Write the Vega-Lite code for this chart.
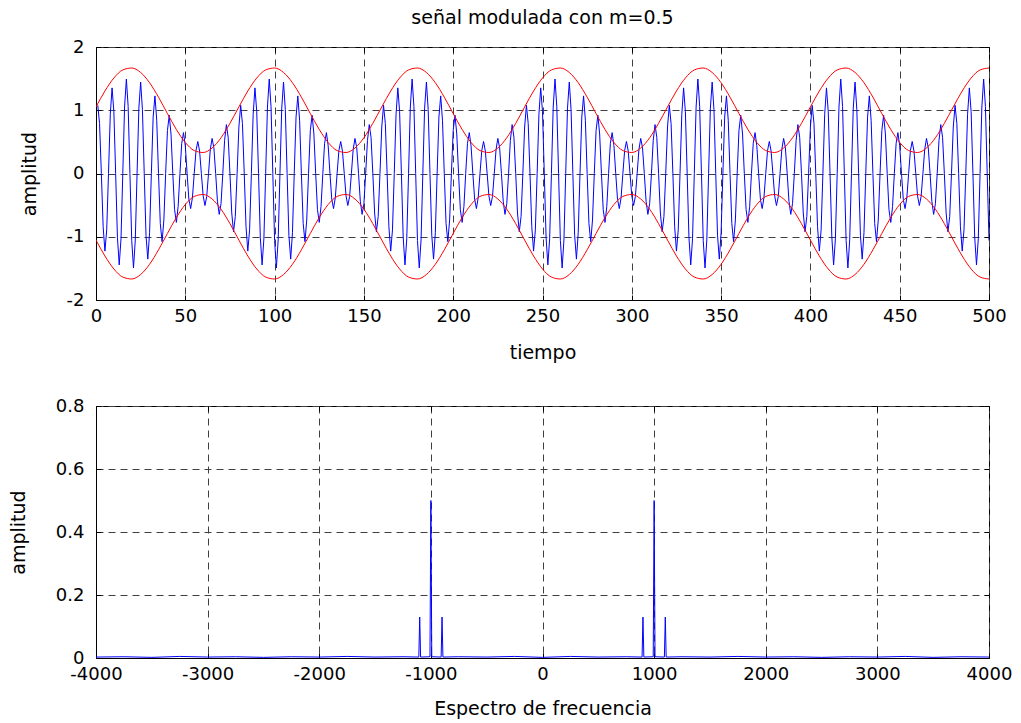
{
  "$schema": "https://vega.github.io/schema/vega-lite/v6.json",
  "background": "white",
  "padding": {"left": 8, "top": 8, "right": 10, "bottom": 2},
  "config": {
    "font": "DejaVu Sans",
    "view": {"stroke": "black", "strokeWidth": 1},
    "axis": {
      "labelFont": "DejaVu Sans",
      "labelFontSize": 18,
      "labelColor": "black",
      "titleFont": "DejaVu Sans",
      "titleFontSize": 19,
      "titleFontWeight": "normal",
      "titleColor": "black",
      "domainColor": "black",
      "tickColor": "black",
      "tickSize": -5,
      "gridColor": "#404040",
      "gridDash": [7, 5],
      "gridWidth": 1,
      "labelFlush": false,
      "labelOverlap": false
    },
    "axisX": {"labelPadding": 12, "titlePadding": 17},
    "axisY": {"labelPadding": 17, "titlePadding": 27}
  },
  "spacing": 33,
  "datasets": {
    "senal": [
      {"t":1,"v":1.0782},{"t":2,"v":0.7896},{"t":3,"v":0},{"t":4,"v":-0.8424},{"t":5,"v":-1.227},{"t":6,"v":-0.8918},{"t":7,"v":0},{"t":8,"v":0.9367},
      {"t":9,"v":1.3536},{"t":10,"v":0.9759},{"t":11,"v":0},{"t":12,"v":-1.0085},{"t":13,"v":-1.4455},{"t":14,"v":-1.0337},{"t":15,"v":0},{"t":16,"v":1.0509},
      {"t":17,"v":1.4938},{"t":18,"v":1.0596},{"t":19,"v":0},{"t":20,"v":-1.0596},{"t":21,"v":-1.4938},{"t":22,"v":-1.0509},{"t":23,"v":0},{"t":24,"v":1.0337},
      {"t":25,"v":1.4455},{"t":26,"v":1.0085},{"t":27,"v":0},{"t":28,"v":-0.9759},{"t":29,"v":-1.3536},{"t":30,"v":-0.9367},{"t":31,"v":0},{"t":32,"v":0.8918},
      {"t":33,"v":1.227},{"t":34,"v":0.8424},{"t":35,"v":0},{"t":36,"v":-0.7896},{"t":37,"v":-1.0782},{"t":38,"v":-0.7349},{"t":39,"v":0},{"t":40,"v":0.6793},
      {"t":41,"v":0.9218},{"t":42,"v":0.6246},{"t":43,"v":0},{"t":44,"v":-0.5718},{"t":45,"v":-0.773},{"t":46,"v":-0.5224},{"t":47,"v":0},{"t":48,"v":0.4775},
      {"t":49,"v":0.6464},{"t":50,"v":0.4383},{"t":51,"v":0},{"t":52,"v":-0.4057},{"t":53,"v":-0.5545},{"t":54,"v":-0.3805},{"t":55,"v":0},{"t":56,"v":0.3633},
      {"t":57,"v":0.5062},{"t":58,"v":0.3546},{"t":59,"v":0},{"t":60,"v":-0.3546},{"t":61,"v":-0.5062},{"t":62,"v":-0.3633},{"t":63,"v":0},{"t":64,"v":0.3805},
      {"t":65,"v":0.5545},{"t":66,"v":0.4057},{"t":67,"v":0},{"t":68,"v":-0.4383},{"t":69,"v":-0.6464},{"t":70,"v":-0.4775},{"t":71,"v":0},{"t":72,"v":0.5224},
      {"t":73,"v":0.773},{"t":74,"v":0.5718},{"t":75,"v":0},{"t":76,"v":-0.6246},{"t":77,"v":-0.9218},{"t":78,"v":-0.6793},{"t":79,"v":0},{"t":80,"v":0.7349},
      {"t":81,"v":1.0782},{"t":82,"v":0.7896},{"t":83,"v":0},{"t":84,"v":-0.8424},{"t":85,"v":-1.227},{"t":86,"v":-0.8918},{"t":87,"v":0},{"t":88,"v":0.9367},
      {"t":89,"v":1.3536},{"t":90,"v":0.9759},{"t":91,"v":0},{"t":92,"v":-1.0085},{"t":93,"v":-1.4455},{"t":94,"v":-1.0337},{"t":95,"v":0},{"t":96,"v":1.0509},
      {"t":97,"v":1.4938},{"t":98,"v":1.0596},{"t":99,"v":0},{"t":100,"v":-1.0596},{"t":101,"v":-1.4938},{"t":102,"v":-1.0509},{"t":103,"v":0},{"t":104,"v":1.0337},
      {"t":105,"v":1.4455},{"t":106,"v":1.0085},{"t":107,"v":0},{"t":108,"v":-0.9759},{"t":109,"v":-1.3536},{"t":110,"v":-0.9367},{"t":111,"v":0},{"t":112,"v":0.8918},
      {"t":113,"v":1.227},{"t":114,"v":0.8424},{"t":115,"v":0},{"t":116,"v":-0.7896},{"t":117,"v":-1.0782},{"t":118,"v":-0.7349},{"t":119,"v":0},{"t":120,"v":0.6793},
      {"t":121,"v":0.9218},{"t":122,"v":0.6246},{"t":123,"v":0},{"t":124,"v":-0.5718},{"t":125,"v":-0.773},{"t":126,"v":-0.5224},{"t":127,"v":0},{"t":128,"v":0.4775},
      {"t":129,"v":0.6464},{"t":130,"v":0.4383},{"t":131,"v":0},{"t":132,"v":-0.4057},{"t":133,"v":-0.5545},{"t":134,"v":-0.3805},{"t":135,"v":0},{"t":136,"v":0.3633},
      {"t":137,"v":0.5062},{"t":138,"v":0.3546},{"t":139,"v":0},{"t":140,"v":-0.3546},{"t":141,"v":-0.5062},{"t":142,"v":-0.3633},{"t":143,"v":0},{"t":144,"v":0.3805},
      {"t":145,"v":0.5545},{"t":146,"v":0.4057},{"t":147,"v":0},{"t":148,"v":-0.4383},{"t":149,"v":-0.6464},{"t":150,"v":-0.4775},{"t":151,"v":0},{"t":152,"v":0.5224},
      {"t":153,"v":0.773},{"t":154,"v":0.5718},{"t":155,"v":0},{"t":156,"v":-0.6246},{"t":157,"v":-0.9218},{"t":158,"v":-0.6793},{"t":159,"v":0},{"t":160,"v":0.7349},
      {"t":161,"v":1.0782},{"t":162,"v":0.7896},{"t":163,"v":0},{"t":164,"v":-0.8424},{"t":165,"v":-1.227},{"t":166,"v":-0.8918},{"t":167,"v":0},{"t":168,"v":0.9367},
      {"t":169,"v":1.3536},{"t":170,"v":0.9759},{"t":171,"v":0},{"t":172,"v":-1.0085},{"t":173,"v":-1.4455},{"t":174,"v":-1.0337},{"t":175,"v":0},{"t":176,"v":1.0509},
      {"t":177,"v":1.4938},{"t":178,"v":1.0596},{"t":179,"v":0},{"t":180,"v":-1.0596},{"t":181,"v":-1.4938},{"t":182,"v":-1.0509},{"t":183,"v":0},{"t":184,"v":1.0337},
      {"t":185,"v":1.4455},{"t":186,"v":1.0085},{"t":187,"v":0},{"t":188,"v":-0.9759},{"t":189,"v":-1.3536},{"t":190,"v":-0.9367},{"t":191,"v":0},{"t":192,"v":0.8918},
      {"t":193,"v":1.227},{"t":194,"v":0.8424},{"t":195,"v":0},{"t":196,"v":-0.7896},{"t":197,"v":-1.0782},{"t":198,"v":-0.7349},{"t":199,"v":0},{"t":200,"v":0.6793},
      {"t":201,"v":0.9218},{"t":202,"v":0.6246},{"t":203,"v":0},{"t":204,"v":-0.5718},{"t":205,"v":-0.773},{"t":206,"v":-0.5224},{"t":207,"v":0},{"t":208,"v":0.4775},
      {"t":209,"v":0.6464},{"t":210,"v":0.4383},{"t":211,"v":0},{"t":212,"v":-0.4057},{"t":213,"v":-0.5545},{"t":214,"v":-0.3805},{"t":215,"v":0},{"t":216,"v":0.3633},
      {"t":217,"v":0.5062},{"t":218,"v":0.3546},{"t":219,"v":0},{"t":220,"v":-0.3546},{"t":221,"v":-0.5062},{"t":222,"v":-0.3633},{"t":223,"v":0},{"t":224,"v":0.3805},
      {"t":225,"v":0.5545},{"t":226,"v":0.4057},{"t":227,"v":0},{"t":228,"v":-0.4383},{"t":229,"v":-0.6464},{"t":230,"v":-0.4775},{"t":231,"v":0},{"t":232,"v":0.5224},
      {"t":233,"v":0.773},{"t":234,"v":0.5718},{"t":235,"v":0},{"t":236,"v":-0.6246},{"t":237,"v":-0.9218},{"t":238,"v":-0.6793},{"t":239,"v":0},{"t":240,"v":0.7349},
      {"t":241,"v":1.0782},{"t":242,"v":0.7896},{"t":243,"v":0},{"t":244,"v":-0.8424},{"t":245,"v":-1.227},{"t":246,"v":-0.8918},{"t":247,"v":0},{"t":248,"v":0.9367},
      {"t":249,"v":1.3536},{"t":250,"v":0.9759},{"t":251,"v":0},{"t":252,"v":-1.0085},{"t":253,"v":-1.4455},{"t":254,"v":-1.0337},{"t":255,"v":0},{"t":256,"v":1.0509},
      {"t":257,"v":1.4938},{"t":258,"v":1.0596},{"t":259,"v":0},{"t":260,"v":-1.0596},{"t":261,"v":-1.4938},{"t":262,"v":-1.0509},{"t":263,"v":0},{"t":264,"v":1.0337},
      {"t":265,"v":1.4455},{"t":266,"v":1.0085},{"t":267,"v":0},{"t":268,"v":-0.9759},{"t":269,"v":-1.3536},{"t":270,"v":-0.9367},{"t":271,"v":0},{"t":272,"v":0.8918},
      {"t":273,"v":1.227},{"t":274,"v":0.8424},{"t":275,"v":0},{"t":276,"v":-0.7896},{"t":277,"v":-1.0782},{"t":278,"v":-0.7349},{"t":279,"v":0},{"t":280,"v":0.6793},
      {"t":281,"v":0.9218},{"t":282,"v":0.6246},{"t":283,"v":0},{"t":284,"v":-0.5718},{"t":285,"v":-0.773},{"t":286,"v":-0.5224},{"t":287,"v":0},{"t":288,"v":0.4775},
      {"t":289,"v":0.6464},{"t":290,"v":0.4383},{"t":291,"v":0},{"t":292,"v":-0.4057},{"t":293,"v":-0.5545},{"t":294,"v":-0.3805},{"t":295,"v":0},{"t":296,"v":0.3633},
      {"t":297,"v":0.5062},{"t":298,"v":0.3546},{"t":299,"v":0},{"t":300,"v":-0.3546},{"t":301,"v":-0.5062},{"t":302,"v":-0.3633},{"t":303,"v":0},{"t":304,"v":0.3805},
      {"t":305,"v":0.5545},{"t":306,"v":0.4057},{"t":307,"v":0},{"t":308,"v":-0.4383},{"t":309,"v":-0.6464},{"t":310,"v":-0.4775},{"t":311,"v":0},{"t":312,"v":0.5224},
      {"t":313,"v":0.773},{"t":314,"v":0.5718},{"t":315,"v":0},{"t":316,"v":-0.6246},{"t":317,"v":-0.9218},{"t":318,"v":-0.6793},{"t":319,"v":0},{"t":320,"v":0.7349},
      {"t":321,"v":1.0782},{"t":322,"v":0.7896},{"t":323,"v":0},{"t":324,"v":-0.8424},{"t":325,"v":-1.227},{"t":326,"v":-0.8918},{"t":327,"v":0},{"t":328,"v":0.9367},
      {"t":329,"v":1.3536},{"t":330,"v":0.9759},{"t":331,"v":0},{"t":332,"v":-1.0085},{"t":333,"v":-1.4455},{"t":334,"v":-1.0337},{"t":335,"v":0},{"t":336,"v":1.0509},
      {"t":337,"v":1.4938},{"t":338,"v":1.0596},{"t":339,"v":0},{"t":340,"v":-1.0596},{"t":341,"v":-1.4938},{"t":342,"v":-1.0509},{"t":343,"v":0},{"t":344,"v":1.0337},
      {"t":345,"v":1.4455},{"t":346,"v":1.0085},{"t":347,"v":0},{"t":348,"v":-0.9759},{"t":349,"v":-1.3536},{"t":350,"v":-0.9367},{"t":351,"v":0},{"t":352,"v":0.8918},
      {"t":353,"v":1.227},{"t":354,"v":0.8424},{"t":355,"v":0},{"t":356,"v":-0.7896},{"t":357,"v":-1.0782},{"t":358,"v":-0.7349},{"t":359,"v":0},{"t":360,"v":0.6793},
      {"t":361,"v":0.9218},{"t":362,"v":0.6246},{"t":363,"v":0},{"t":364,"v":-0.5718},{"t":365,"v":-0.773},{"t":366,"v":-0.5224},{"t":367,"v":0},{"t":368,"v":0.4775},
      {"t":369,"v":0.6464},{"t":370,"v":0.4383},{"t":371,"v":0},{"t":372,"v":-0.4057},{"t":373,"v":-0.5545},{"t":374,"v":-0.3805},{"t":375,"v":0},{"t":376,"v":0.3633},
      {"t":377,"v":0.5062},{"t":378,"v":0.3546},{"t":379,"v":0},{"t":380,"v":-0.3546},{"t":381,"v":-0.5062},{"t":382,"v":-0.3633},{"t":383,"v":0},{"t":384,"v":0.3805},
      {"t":385,"v":0.5545},{"t":386,"v":0.4057},{"t":387,"v":0},{"t":388,"v":-0.4383},{"t":389,"v":-0.6464},{"t":390,"v":-0.4775},{"t":391,"v":0},{"t":392,"v":0.5224},
      {"t":393,"v":0.773},{"t":394,"v":0.5718},{"t":395,"v":0},{"t":396,"v":-0.6246},{"t":397,"v":-0.9218},{"t":398,"v":-0.6793},{"t":399,"v":0},{"t":400,"v":0.7349},
      {"t":401,"v":1.0782},{"t":402,"v":0.7896},{"t":403,"v":0},{"t":404,"v":-0.8424},{"t":405,"v":-1.227},{"t":406,"v":-0.8918},{"t":407,"v":0},{"t":408,"v":0.9367},
      {"t":409,"v":1.3536},{"t":410,"v":0.9759},{"t":411,"v":0},{"t":412,"v":-1.0085},{"t":413,"v":-1.4455},{"t":414,"v":-1.0337},{"t":415,"v":0},{"t":416,"v":1.0509},
      {"t":417,"v":1.4938},{"t":418,"v":1.0596},{"t":419,"v":0},{"t":420,"v":-1.0596},{"t":421,"v":-1.4938},{"t":422,"v":-1.0509},{"t":423,"v":0},{"t":424,"v":1.0337},
      {"t":425,"v":1.4455},{"t":426,"v":1.0085},{"t":427,"v":0},{"t":428,"v":-0.9759},{"t":429,"v":-1.3536},{"t":430,"v":-0.9367},{"t":431,"v":0},{"t":432,"v":0.8918},
      {"t":433,"v":1.227},{"t":434,"v":0.8424},{"t":435,"v":0},{"t":436,"v":-0.7896},{"t":437,"v":-1.0782},{"t":438,"v":-0.7349},{"t":439,"v":0},{"t":440,"v":0.6793},
      {"t":441,"v":0.9218},{"t":442,"v":0.6246},{"t":443,"v":0},{"t":444,"v":-0.5718},{"t":445,"v":-0.773},{"t":446,"v":-0.5224},{"t":447,"v":0},{"t":448,"v":0.4775},
      {"t":449,"v":0.6464},{"t":450,"v":0.4383},{"t":451,"v":0},{"t":452,"v":-0.4057},{"t":453,"v":-0.5545},{"t":454,"v":-0.3805},{"t":455,"v":0},{"t":456,"v":0.3633},
      {"t":457,"v":0.5062},{"t":458,"v":0.3546},{"t":459,"v":0},{"t":460,"v":-0.3546},{"t":461,"v":-0.5062},{"t":462,"v":-0.3633},{"t":463,"v":0},{"t":464,"v":0.3805},
      {"t":465,"v":0.5545},{"t":466,"v":0.4057},{"t":467,"v":0},{"t":468,"v":-0.4383},{"t":469,"v":-0.6464},{"t":470,"v":-0.4775},{"t":471,"v":0},{"t":472,"v":0.5224},
      {"t":473,"v":0.773},{"t":474,"v":0.5718},{"t":475,"v":0},{"t":476,"v":-0.6246},{"t":477,"v":-0.9218},{"t":478,"v":-0.6793},{"t":479,"v":0},{"t":480,"v":0.7349},
      {"t":481,"v":1.0782},{"t":482,"v":0.7896},{"t":483,"v":0},{"t":484,"v":-0.8424},{"t":485,"v":-1.227},{"t":486,"v":-0.8918},{"t":487,"v":0},{"t":488,"v":0.9367},
      {"t":489,"v":1.3536},{"t":490,"v":0.9759},{"t":491,"v":0},{"t":492,"v":-1.0085},{"t":493,"v":-1.4455},{"t":494,"v":-1.0337},{"t":495,"v":0},{"t":496,"v":1.0509},
      {"t":497,"v":1.4938},{"t":498,"v":1.0596},{"t":499,"v":0},{"t":500,"v":-1.0596}
    ],
    "envolvente": [
      {"t":0,"hi":1.0526,"lo":-1.0526},{"t":5,"hi":1.3042,"lo":-1.3042},{"t":10,"hi":1.5095,"lo":-1.5095},{"t":15,"hi":1.6372,"lo":-1.6372},
      {"t":20,"hi":1.6679,"lo":-1.6679},{"t":25,"hi":1.597,"lo":-1.597},{"t":30,"hi":1.4351,"lo":-1.4351},{"t":35,"hi":1.207,"lo":-1.207},
      {"t":40,"hi":0.9474,"lo":-0.9474},{"t":45,"hi":0.6958,"lo":-0.6958},{"t":50,"hi":0.4905,"lo":-0.4905},{"t":55,"hi":0.3628,"lo":-0.3628},
      {"t":60,"hi":0.3321,"lo":-0.3321},{"t":65,"hi":0.403,"lo":-0.403},{"t":70,"hi":0.5649,"lo":-0.5649},{"t":75,"hi":0.793,"lo":-0.793},
      {"t":80,"hi":1.0526,"lo":-1.0526},{"t":85,"hi":1.3042,"lo":-1.3042},{"t":90,"hi":1.5095,"lo":-1.5095},{"t":95,"hi":1.6372,"lo":-1.6372},
      {"t":100,"hi":1.6679,"lo":-1.6679},{"t":105,"hi":1.597,"lo":-1.597},{"t":110,"hi":1.4351,"lo":-1.4351},{"t":115,"hi":1.207,"lo":-1.207},
      {"t":120,"hi":0.9474,"lo":-0.9474},{"t":125,"hi":0.6958,"lo":-0.6958},{"t":130,"hi":0.4905,"lo":-0.4905},{"t":135,"hi":0.3628,"lo":-0.3628},
      {"t":140,"hi":0.3321,"lo":-0.3321},{"t":145,"hi":0.403,"lo":-0.403},{"t":150,"hi":0.5649,"lo":-0.5649},{"t":155,"hi":0.793,"lo":-0.793},
      {"t":160,"hi":1.0526,"lo":-1.0526},{"t":165,"hi":1.3042,"lo":-1.3042},{"t":170,"hi":1.5095,"lo":-1.5095},{"t":175,"hi":1.6372,"lo":-1.6372},
      {"t":180,"hi":1.6679,"lo":-1.6679},{"t":185,"hi":1.597,"lo":-1.597},{"t":190,"hi":1.4351,"lo":-1.4351},{"t":195,"hi":1.207,"lo":-1.207},
      {"t":200,"hi":0.9474,"lo":-0.9474},{"t":205,"hi":0.6958,"lo":-0.6958},{"t":210,"hi":0.4905,"lo":-0.4905},{"t":215,"hi":0.3628,"lo":-0.3628},
      {"t":220,"hi":0.3321,"lo":-0.3321},{"t":225,"hi":0.403,"lo":-0.403},{"t":230,"hi":0.5649,"lo":-0.5649},{"t":235,"hi":0.793,"lo":-0.793},
      {"t":240,"hi":1.0526,"lo":-1.0526},{"t":245,"hi":1.3042,"lo":-1.3042},{"t":250,"hi":1.5095,"lo":-1.5095},{"t":255,"hi":1.6372,"lo":-1.6372},
      {"t":260,"hi":1.6679,"lo":-1.6679},{"t":265,"hi":1.597,"lo":-1.597},{"t":270,"hi":1.4351,"lo":-1.4351},{"t":275,"hi":1.207,"lo":-1.207},
      {"t":280,"hi":0.9474,"lo":-0.9474},{"t":285,"hi":0.6958,"lo":-0.6958},{"t":290,"hi":0.4905,"lo":-0.4905},{"t":295,"hi":0.3628,"lo":-0.3628},
      {"t":300,"hi":0.3321,"lo":-0.3321},{"t":305,"hi":0.403,"lo":-0.403},{"t":310,"hi":0.5649,"lo":-0.5649},{"t":315,"hi":0.793,"lo":-0.793},
      {"t":320,"hi":1.0526,"lo":-1.0526},{"t":325,"hi":1.3042,"lo":-1.3042},{"t":330,"hi":1.5095,"lo":-1.5095},{"t":335,"hi":1.6372,"lo":-1.6372},
      {"t":340,"hi":1.6679,"lo":-1.6679},{"t":345,"hi":1.597,"lo":-1.597},{"t":350,"hi":1.4351,"lo":-1.4351},{"t":355,"hi":1.207,"lo":-1.207},
      {"t":360,"hi":0.9474,"lo":-0.9474},{"t":365,"hi":0.6958,"lo":-0.6958},{"t":370,"hi":0.4905,"lo":-0.4905},{"t":375,"hi":0.3628,"lo":-0.3628},
      {"t":380,"hi":0.3321,"lo":-0.3321},{"t":385,"hi":0.403,"lo":-0.403},{"t":390,"hi":0.5649,"lo":-0.5649},{"t":395,"hi":0.793,"lo":-0.793},
      {"t":400,"hi":1.0526,"lo":-1.0526},{"t":405,"hi":1.3042,"lo":-1.3042},{"t":410,"hi":1.5095,"lo":-1.5095},{"t":415,"hi":1.6372,"lo":-1.6372},
      {"t":420,"hi":1.6679,"lo":-1.6679},{"t":425,"hi":1.597,"lo":-1.597},{"t":430,"hi":1.4351,"lo":-1.4351},{"t":435,"hi":1.207,"lo":-1.207},
      {"t":440,"hi":0.9474,"lo":-0.9474},{"t":445,"hi":0.6958,"lo":-0.6958},{"t":450,"hi":0.4905,"lo":-0.4905},{"t":455,"hi":0.3628,"lo":-0.3628},
      {"t":460,"hi":0.3321,"lo":-0.3321},{"t":465,"hi":0.403,"lo":-0.403},{"t":470,"hi":0.5649,"lo":-0.5649},{"t":475,"hi":0.793,"lo":-0.793},
      {"t":480,"hi":1.0526,"lo":-1.0526},{"t":485,"hi":1.3042,"lo":-1.3042},{"t":490,"hi":1.5095,"lo":-1.5095},{"t":495,"hi":1.6372,"lo":-1.6372},
      {"t":500,"hi":1.6679,"lo":-1.6679}
    ],
    "espectro": [
      {"f":-4000,"a":0.003},{"f":-3750,"a":0.004},{"f":-3500,"a":0.002},{"f":-3250,"a":0.005},{"f":-3000,"a":0.003},
      {"f":-2750,"a":0.004},{"f":-2500,"a":0.002},{"f":-2250,"a":0.004},{"f":-2000,"a":0.003},{"f":-1750,"a":0.005},
      {"f":-1500,"a":0.003},{"f":-1250,"a":0.004},{"f":-1108,"a":0.003},{"f":-1100,"a":0.13},{"f":-1092,"a":0.003},
      {"f":-1008,"a":0.004},{"f":-1000,"a":0.5},{"f":-992,"a":0.004},{"f":-908,"a":0.003},{"f":-900,"a":0.13},
      {"f":-892,"a":0.003},{"f":-750,"a":0.004},{"f":-500,"a":0.003},{"f":-250,"a":0.005},{"f":0,"a":0.002},
      {"f":250,"a":0.005},{"f":500,"a":0.003},{"f":750,"a":0.004},{"f":892,"a":0.003},{"f":900,"a":0.13},
      {"f":908,"a":0.003},{"f":992,"a":0.004},{"f":1000,"a":0.5},{"f":1008,"a":0.004},{"f":1092,"a":0.003},
      {"f":1100,"a":0.13},{"f":1108,"a":0.003},{"f":1250,"a":0.004},{"f":1500,"a":0.003},{"f":1750,"a":0.005},
      {"f":2000,"a":0.003},{"f":2250,"a":0.004},{"f":2500,"a":0.002},{"f":2750,"a":0.004},{"f":3000,"a":0.003},
      {"f":3250,"a":0.005},{"f":3500,"a":0.002},{"f":3750,"a":0.004},{"f":4000,"a":0.003}
    ]
  },
  "vconcat": [
    {
      "width": 893,
      "height": 253,
      "title": {"text": "señal modulada con m=0.5", "anchor": "middle", "font": "DejaVu Sans", "fontSize": 19, "fontWeight": "normal", "color": "black", "offset": 10},
      "layer": [
        {
          "data": {"name": "senal"},
          "mark": {"type": "line", "color": "#0000ff", "strokeWidth": 1, "clip": true},
          "encoding": {
            "x": {"field": "t", "type": "quantitative", "scale": {"domain": [0, 500], "nice": false, "zero": false},
              "axis": {"title": "tiempo", "titlePadding": 18, "values": [0, 50, 100, 150, 200, 250, 300, 350, 400, 450, 500], "grid": true, "labelExpr": "'' + datum.value"}},
            "y": {"field": "v", "type": "quantitative", "scale": {"domain": [-2, 2], "nice": false},
              "axis": {"title": "amplitud", "values": [-2, -1, 0, 1, 2], "grid": true, "labelExpr": "'' + datum.value"}}
          }
        },
        {
          "data": {"name": "envolvente"},
          "mark": {"type": "line", "color": "#ff0000", "strokeWidth": 1, "interpolate": "monotone", "clip": true},
          "encoding": {
            "x": {"field": "t", "type": "quantitative",
              "axis": {"orient": "top", "labels": false, "title": null, "grid": false, "domain": false, "values": [0, 50, 100, 150, 200, 250, 300, 350, 400, 450, 500]}},
            "y": {"field": "hi", "type": "quantitative",
              "axis": {"orient": "right", "labels": false, "title": null, "grid": false, "domain": false, "values": [-2, -1, 0, 1, 2]}}
          }
        },
        {
          "data": {"name": "envolvente"},
          "mark": {"type": "line", "color": "#ff0000", "strokeWidth": 1, "interpolate": "monotone", "clip": true},
          "encoding": {
            "x": {"field": "t", "type": "quantitative", "axis": null},
            "y": {"field": "lo", "type": "quantitative", "axis": null}
          }
        }
      ],
      "resolve": {"axis": {"x": "independent", "y": "independent"}}
    },
    {
      "width": 893,
      "height": 252,
      "data": {"name": "espectro"},
      "layer": [
        {
          "mark": {"type": "line", "color": "#0000ff", "strokeWidth": 1, "clip": true},
          "encoding": {
            "x": {"field": "f", "type": "quantitative", "scale": {"domain": [-4000, 4000], "nice": false},
              "axis": {"title": "Espectro de frecuencia", "titlePadding": 16, "values": [-4000, -3000, -2000, -1000, 0, 1000, 2000, 3000, 4000], "grid": true, "labelExpr": "'' + datum.value"}},
            "y": {"field": "a", "type": "quantitative", "scale": {"domain": [0, 0.8], "nice": false},
              "axis": {"title": "amplitud", "values": [0, 0.2, 0.4, 0.6, 0.8], "grid": true, "labelExpr": "'' + datum.value"}}
          }
        },
        {
          "mark": {"type": "line", "opacity": 0},
          "encoding": {
            "x": {"field": "f", "type": "quantitative",
              "axis": {"orient": "top", "labels": false, "title": null, "grid": false, "domain": false, "values": [-4000, -3000, -2000, -1000, 0, 1000, 2000, 3000, 4000]}},
            "y": {"field": "a", "type": "quantitative",
              "axis": {"orient": "right", "labels": false, "title": null, "grid": false, "domain": false, "values": [0, 0.2, 0.4, 0.6, 0.8]}}
          }
        }
      ],
      "resolve": {"axis": {"x": "independent", "y": "independent"}}
    }
  ]
}
